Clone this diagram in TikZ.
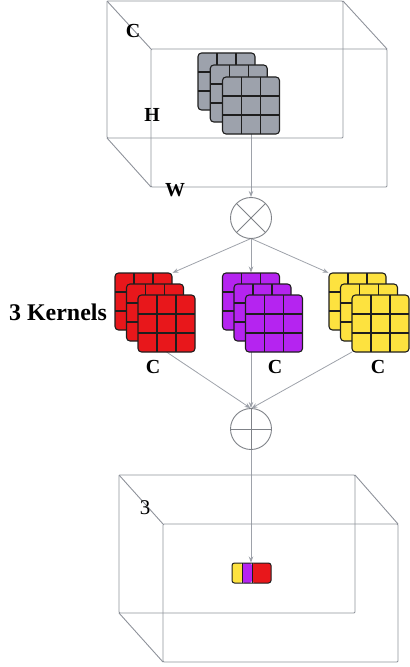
\documentclass[tikz,border=0pt]{standalone}
\usepackage{fontspec}
\setmainfont{Liberation Serif}
\usetikzlibrary{arrows.meta,backgrounds}
\definecolor{boxline}{HTML}{8E929A}
\definecolor{conn}{HTML}{9EA2AA}
\definecolor{opline}{HTML}{7F8288}
\definecolor{kgray}{HTML}{9DA2AC}
\definecolor{kred}{HTML}{E8171B}
\definecolor{kpurple}{HTML}{B524F0}
\definecolor{kyellow}{HTML}{FDE23F}
\definecolor{kedge}{HTML}{1E1E1E}
\tikzset{
  layer/.style={draw=kedge, line width=1.1bp, rounded corners=3.5bp,
    minimum width=57bp, minimum height=57bp, inner sep=0pt, outer sep=0pt, fill=#1,
    path picture={
      \draw[kedge, line width=1.1bp]
        ([xshift=-9.5bp]path picture bounding box.north) -- ([xshift=-9.5bp]path picture bounding box.south)
        ([xshift=9.5bp]path picture bounding box.north) -- ([xshift=9.5bp]path picture bounding box.south)
        ([yshift=-9.5bp]path picture bounding box.west) -- ([yshift=-9.5bp]path picture bounding box.east)
        ([yshift=9.5bp]path picture bounding box.west) -- ([yshift=9.5bp]path picture bounding box.east);
    }},
  opcirc/.style={circle, draw=opline, line width=0.9bp, fill=white, minimum size=41bp,
    inner sep=0pt, outer sep=0pt},
  otimesop/.style={opcirc, path picture={
      \draw[opline, line width=0.9bp]
        (path picture bounding box.north west) -- (path picture bounding box.south east)
        (path picture bounding box.north east) -- (path picture bounding box.south west);}},
  oplusop/.style={opcirc, path picture={
      \draw[opline, line width=0.9bp]
        (path picture bounding box.north) -- (path picture bounding box.south)
        (path picture bounding box.west) -- (path picture bounding box.east);}},
  cube/.style={draw=boxline, line width=0.9bp, rounded corners=1bp},
  conn/.style={draw=conn, line width=0.8bp, -{Stealth[length=6bp,width=4.5bp]}, shorten >=0.5bp},
  plainconn/.style={draw=conn, line width=0.8bp},
  lbl/.style={font=\bfseries\fontsize{20}{22}\selectfont, inner sep=0pt},
  bar/.style={draw=kedge, line width=1bp, rounded corners=2.5bp, minimum width=39bp,
    minimum height=20bp, inner sep=0pt, outer sep=0pt,
    path picture={
      \fill[kyellow] (path picture bounding box.south west) rectangle ([xshift=10bp]path picture bounding box.north west);
      \fill[kpurple] ([xshift=10bp]path picture bounding box.south west) rectangle ([xshift=20bp]path picture bounding box.north west);
      \fill[kred] ([xshift=20bp]path picture bounding box.south west) rectangle (path picture bounding box.north east);
      \draw[kedge, line width=1bp]
        ([xshift=10bp]path picture bounding box.south west) -- ([xshift=10bp]path picture bounding box.north west)
        ([xshift=20bp]path picture bounding box.south west) -- ([xshift=20bp]path picture bounding box.north west);
    }}
}
\begin{document}
\begin{tikzpicture}[x=1bp, y=-1bp]
\useasboundingbox (0,0) rectangle (409,667);

% top tensor box
\draw[cube] (107,1) rectangle (343,138);
\draw[cube] (151,49) rectangle (387,187);
\draw[cube] (107,1) -- (151,49);
\draw[cube] (343,1) -- (387,49);
\draw[cube] (107,138) -- (151,187);

% bottom tensor box
\draw[cube] (119,475) rectangle (355,613);
\draw[cube] (163,524) rectangle (398,662);
\draw[cube] (119,475) -- (163,524);
\draw[cube] (355,475) -- (398,524);
\draw[cube] (119,613) -- (163,662);

% labels
\node[lbl] (lc) at (133,31) {C};
\node[lbl] (lh) at (152,115) {H};
\node[lbl] (lw) at (175,190) {W};
\node[font=\bfseries\fontsize{24}{26}\selectfont, inner sep=0pt] (lk) at (58,312) {3 Kernels};
\node[lbl] (lc1) at (153,367) {C};
\node[lbl] (lc2) at (275,367) {C};
\node[lbl] (lc3) at (378,367) {C};
\node[font=\fontsize{21}{23}\selectfont, inner sep=0pt] (l3) at (145,508) {3};

% gray kernels
\node[layer=kgray] (g1) at (226.5,81.5) {};
\node[layer=kgray] (g2) at (238.75,93.5) {};
\node[layer=kgray] (g3) at (251,105.5) {};

% operators
\node[otimesop] (ot) at (251,218) {};
\node[oplusop] (op) at (251,429) {};

% red kernels
\node[layer=kred] (r1) at (143.5,301.5) {};
\node[layer=kred] (r2) at (155,312.5) {};
\node[layer=kred] (r3) at (166.5,323.5) {};
% purple kernels
\node[layer=kpurple] (p1) at (251,301.5) {};
\node[layer=kpurple] (p2) at (262.5,312.5) {};
\node[layer=kpurple] (p3) at (274,323.5) {};
% yellow kernels
\node[layer=kyellow] (y1) at (357.5,301.5) {};
\node[layer=kyellow] (y2) at (369,312.5) {};
\node[layer=kyellow] (y3) at (380.5,323.5) {};

% result bar
\node[bar] (bar) at (251.5,573) {};

\begin{scope}[on background layer]
\draw[conn] (g3.south) -- (ot.north);
\draw[conn] (ot.south) -- (r1.north east);
\draw[conn] (ot.south) -- (p1.north);
\draw[conn] (ot.south) -- (y1.north west);
\draw[conn] (r3.south) -- (op.north);
\draw[conn] (p1.south) -- (op.north);
\draw[conn] (y3.south west) -- (op.north);
\draw[conn] (op.south) -- (op.south |- bar.north);
\end{scope}
\end{tikzpicture}
\end{document}
